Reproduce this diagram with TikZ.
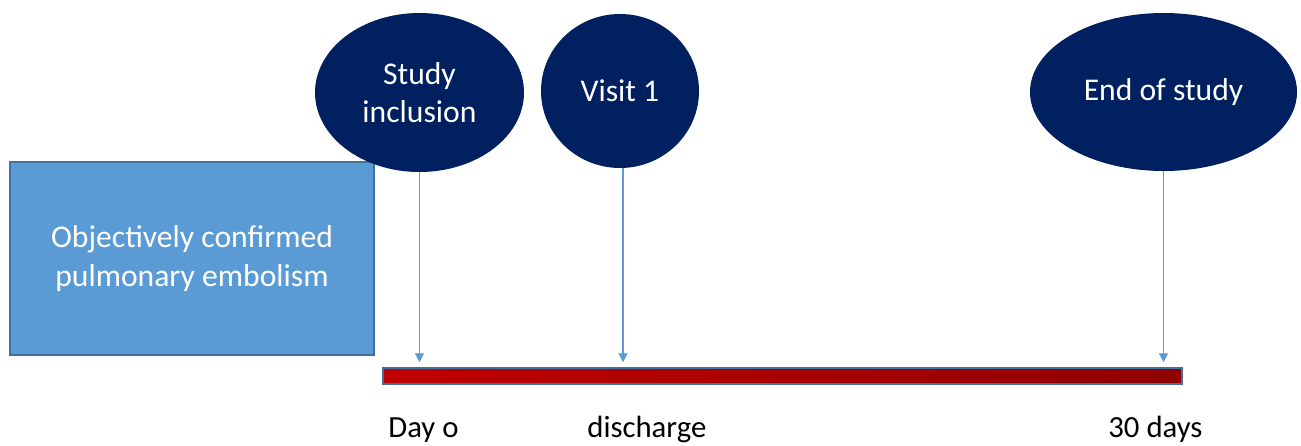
\documentclass[tikz,border=0pt]{standalone}
\usepackage{fontspec}
\setmainfont{Carlito}
\usetikzlibrary{arrows.meta, positioning, shapes.geometric}

\definecolor{navy}{HTML}{002060}
\definecolor{boxblue}{HTML}{5B9BD5}
\definecolor{boxedge}{HTML}{41719C}
\definecolor{barred}{HTML}{C00000}
\definecolor{bardark}{HTML}{900000}

\begin{document}
\begin{tikzpicture}[x=0.2mm, y=-0.2mm,
every node/.append style = {inner sep=0pt},
   visit/.style = {ellipse, fill=navy, text=white, align=center,
                   font=\fontsize{18}{22}\selectfont},
   block/.style = {rectangle, draw=boxedge, fill=boxblue, text=white,
                   line width=0.3mm, align=center,
                   font=\fontsize{18}{22}\selectfont},
    peg/.style = {draw=boxblue, line width=0.25mm,
                  -{Triangle[length=1.8mm,width=1.8mm]}, shorten >=1mm},
 daylabel/.style = {anchor=base west, font=\fontsize{17.5}{21}\selectfont}
                    ]
\useasboundingbox (0,0) rectangle (1301,445);
%nodes
\node (pe)      [block, minimum width=72.8mm, minimum height=38.6mm]
                at (192,258.5)  {Objectively confirmed\\pulmonary embolism};
\node (incl)    [visit, minimum width=41.8mm, minimum height=31.8mm]
                at (419.5,92.5) {Study\\inclusion};
\node (visit1)  [visit, minimum width=31.6mm, minimum height=30.8mm]
                at (620,91)     {Visit 1};
\node (eos)     [visit, minimum width=53.4mm, minimum height=31.6mm]
                at (1163.5,92)  {End of study};
%
\node (bar)     [rectangle, draw=boxedge, line width=0.3mm,
                 left color=barred, right color=bardark,
                 minimum width=159.8mm, minimum height=3.2mm]
                at (782.5,376)  {};
%
\node (day0)    [daylabel] at (388,437)  {Day o};
\node (disch)   [daylabel] at (587,437)  {discharge};
\node (day30)   [daylabel] at (1108,437) {30 days};
% edges
\draw[peg]  (incl.south)    -- (incl.south |- bar.north);
\draw[peg]  ([xshift=0.6mm]visit1.south) -- ([xshift=0.6mm]visit1.south |- bar.north);
\draw[peg]  (eos.south)     -- (eos.south |- bar.north);
\end{tikzpicture}
\end{document}
